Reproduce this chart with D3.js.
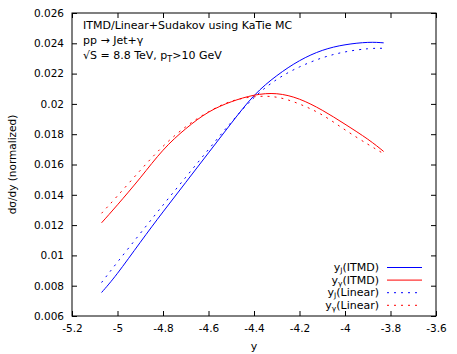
<!DOCTYPE html>
<html>
<head>
<meta charset="utf-8">
<script src="https://cdn.jsdelivr.net/npm/d3@7"></script>
<style>
  body { margin: 0; background: #fff; }
  text { font-family: "DejaVu Sans", sans-serif; fill: #000; }
</style>
</head>
<body>
<div id="chart"></div>
<script>
// rapidity points and the four distributions
const yPoints = [-5.07, -5.0, -4.9, -4.8, -4.7, -4.6, -4.5, -4.4, -4.3, -4.2, -4.1, -4.0, -3.9, -3.83]
const jetItmd = [0.00755, 0.00882, 0.01086, 0.01287, 0.01482, 0.01677, 0.01872, 0.02054, 0.02186, 0.02285, 0.02353, 0.0239, 0.02406, 0.02403]
const photonItmd = [0.01215, 0.01334, 0.01512, 0.01694, 0.01836, 0.01945, 0.02014, 0.02057, 0.02067, 0.02031, 0.01958, 0.01866, 0.01767, 0.01686]
const jetLinear = [0.00821, 0.00956, 0.01145, 0.01332, 0.01516, 0.01699, 0.01879, 0.02041, 0.02161, 0.02244, 0.02304, 0.02343, 0.02364, 0.02367]
const photonLinear = [0.01278, 0.01393, 0.01561, 0.0172, 0.01849, 0.01948, 0.02017, 0.02047, 0.02044, 0.01999, 0.01927, 0.01829, 0.01734, 0.01671]

const xTicks = [-5.2, -5, -4.8, -4.6, -4.4, -4.2, -4, -3.8, -3.6]
const yTicks = [0.006, 0.008, 0.01, 0.012, 0.014, 0.016, 0.018, 0.02, 0.022, 0.024, 0.026]

const series = [
  {sub: "J", label: "(ITMD)", values: jetItmd, color: "#0000ff", dash: null},
  {sub: "γ", label: "(ITMD)", values: photonItmd, color: "#ff0000", dash: null},
  {sub: "J", label: "(Linear)", values: jetLinear, color: "#0000ff", dash: "2,5"},
  {sub: "γ", label: "(Linear)", values: photonLinear, color: "#ff0000", dash: "2,5"}
]

const margin = {top: 13, right: 21, bottom: 38, left: 72}
const width = 457 - margin.left - margin.right
const height = 354 - margin.top - margin.bottom

const svg = d3.select("#chart")
  .append("svg")
  .attr("width", 457)
  .attr("height", 354)
const g = svg.append("g")
  .attr("transform", "translate(" + margin.left + "," + margin.top + ")")

const x = d3.scaleLinear().domain([-5.2, -3.6]).range([0, width])
const y = d3.scaleLinear().domain([0.006, 0.026]).range([height, 0])

const fmtX = d => String(+d.toFixed(1))
const fmtY = d => String(+d.toFixed(3))

// axes with inward ticks, mirrored on top and right
function styleAxis(sel) {
  sel.select(".domain").remove()
  sel.selectAll(".tick line").attr("stroke", "#000")
  sel.selectAll(".tick text").attr("font-size", "10.5px").attr("font-family", "DejaVu Sans, sans-serif")
}
g.append("g")
  .attr("transform", "translate(0," + height + ")")
  .call(d3.axisBottom(x).tickValues(xTicks).tickFormat(fmtX).tickSize(-5).tickPadding(9))
  .call(styleAxis)
g.append("g")
  .call(d3.axisTop(x).tickValues(xTicks).tickFormat("").tickSize(-5))
  .call(styleAxis)
g.append("g")
  .call(d3.axisLeft(y).tickValues(yTicks).tickFormat(fmtY).tickSize(-5).tickPadding(8))
  .call(styleAxis)
g.append("g")
  .attr("transform", "translate(" + width + ",0)")
  .call(d3.axisRight(y).tickValues(yTicks).tickFormat("").tickSize(-5))
  .call(styleAxis)

g.append("rect")
  .attr("width", width)
  .attr("height", height)
  .attr("fill", "none")
  .attr("stroke", "#000")

// curves
const line = d3.line()
  .x((d, i) => x(yPoints[i]))
  .y(d => y(d))
  .curve(d3.curveNatural)

g.selectAll(".curve")
  .data(series)
  .enter()
  .append("path")
  .attr("class", "curve")
  .attr("d", d => line(d.values))
  .attr("fill", "none")
  .attr("stroke", d => d.color)
  .attr("stroke-width", 1)
  .attr("stroke-dasharray", d => d.dash)

// legend
const legend = g.selectAll(".legend")
  .data(series)
  .enter()
  .append("g")
  .attr("class", "legend")
  .attr("transform", (d, i) => "translate(0," + (254.5 + i * 12.6) + ")")
legend.append("line")
  .attr("x1", 315).attr("x2", 350)
  .attr("stroke", d => d.color)
  .attr("stroke-dasharray", d => d.dash)
const lt = legend.append("text")
  .attr("x", 307)
  .attr("y", 3.5)
  .attr("text-anchor", "end")
  .attr("font-size", "11px")
lt.append("tspan").text("y")
lt.append("tspan").attr("dy", 2).attr("font-size", "7.5px").text(d => d.sub)
lt.append("tspan").attr("dy", -2).text(d => d.label)

// annotation
const note = g.append("g").attr("font-size", "11px")
note.append("text").attr("x", 11).attr("y", 15.5).text("ITMD/Linear+Sudakov using KaTie MC")
note.append("text").attr("x", 11).attr("y", 31).text("pp → Jet+γ")
const n3 = note.append("text").attr("x", 11).attr("y", 45.5)
n3.append("tspan").text("√S = 8.8 TeV, p")
n3.append("tspan").attr("dy", 3).attr("font-size", "8px").text("T")
n3.append("tspan").attr("dy", -3).text(">10 GeV")

// axis titles
svg.append("text")
  .attr("x", margin.left + width / 2)
  .attr("y", 350)
  .attr("text-anchor", "middle")
  .attr("font-size", "11px")
  .text("y")
svg.append("text")
  .attr("transform", "translate(16," + (margin.top + height / 2) + ") rotate(-90)")
  .attr("text-anchor", "middle")
  .attr("font-size", "10.5px")
  .text("dσ/dy (normalized)")
</script>
</body>
</html>
